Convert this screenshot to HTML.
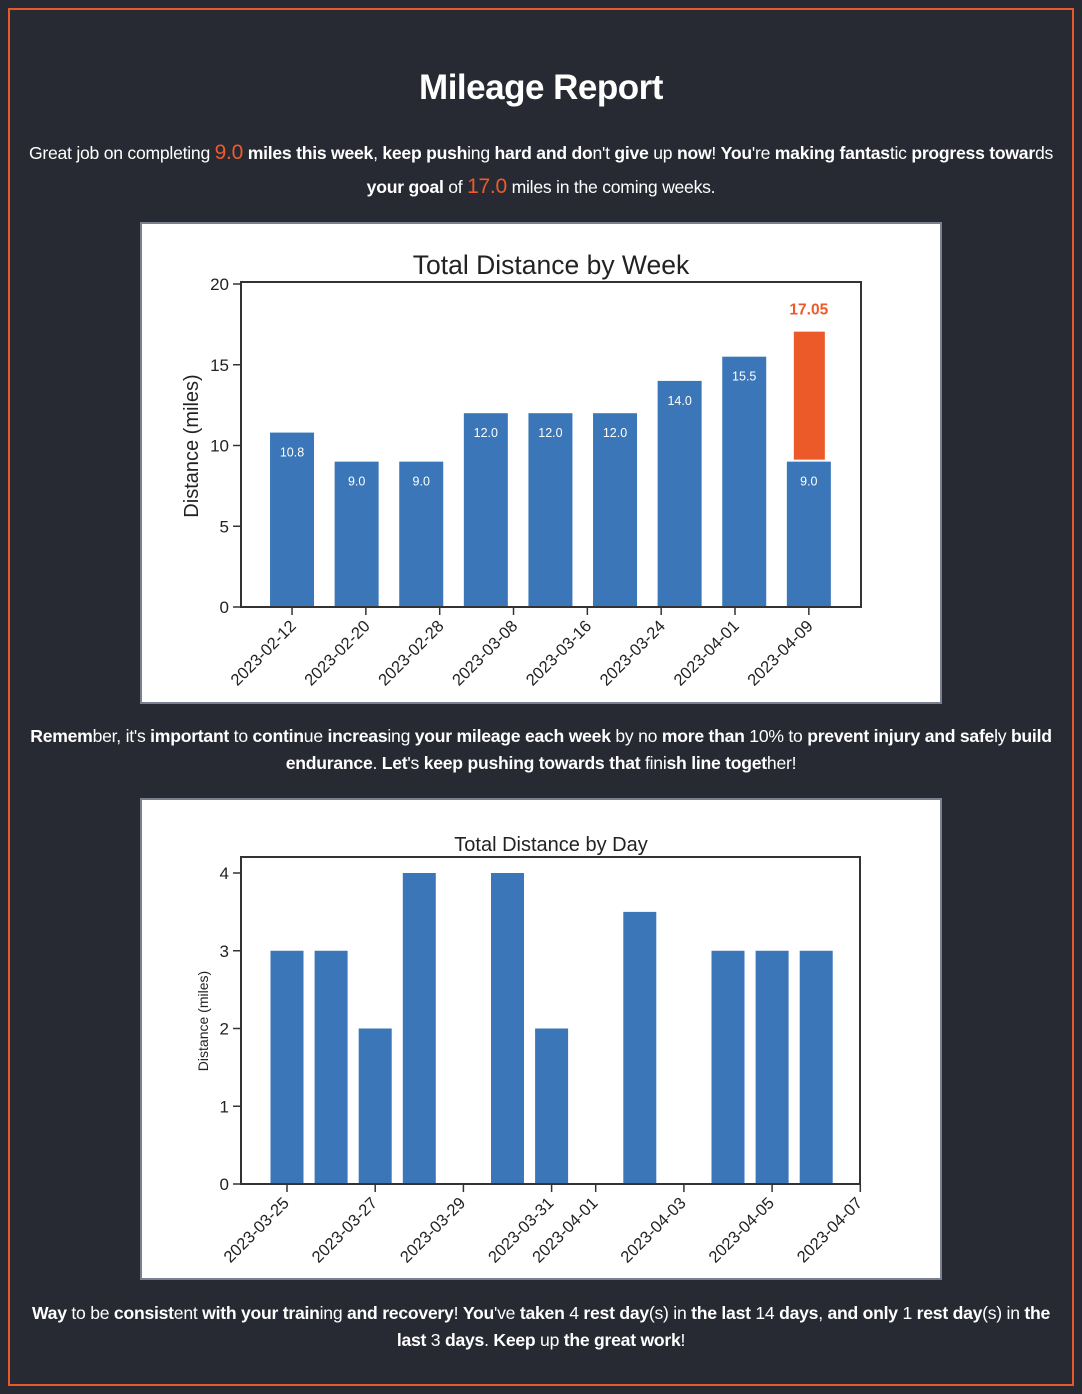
<!DOCTYPE html>
<html><head><meta charset="utf-8">
<style>
html,body{margin:0;padding:0;background:#282a33;}
body{width:1082px;height:1394px;position:relative;font-family:"Liberation Sans",sans-serif;color:#fff;overflow:hidden}
#frame{position:absolute;left:8px;top:8px;width:1066px;height:1378px;border:2px solid #e8582a;box-sizing:border-box}
h1{position:absolute;left:0;width:1082px;top:68px;margin:0;text-align:center;font-size:35px;font-weight:bold;letter-spacing:-0.5px}
.p{position:absolute;left:10px;width:1062px;text-align:center;font-size:17.6px;line-height:33px;letter-spacing:-0.25px}
.p b{font-weight:bold}
.hl{color:#f05a28;font-size:21px}
.card{position:absolute;left:140px;width:802px;height:482px;background:#fff;border:2px solid #7a8090;box-sizing:border-box}
svg text{font-family:"Liberation Sans",sans-serif}
</style></head><body>
<div id="frame"></div>
<h1>Mileage Report</h1>
<div class="p" style="top:136px">Great job on completing <span class="hl">9.0</span> <b>miles this week</b>, <b>keep</b> <b>push</b>ing <b>hard</b> <b>and</b> <b>do</b>n't <b>give</b> up <b>now</b>! <b>You</b>'re <b>making</b> <b>fantas</b>tic <b>progress</b> <b>towar</b>ds<br><b>your</b> <b>goal</b> of <span class="hl">17.0</span> miles in the coming weeks.</div>
<div class="card" style="top:222px"></div>
<div class="p" style="top:723px;line-height:27px"><b>Remem</b>ber, it's <b>important</b> to <b>contin</b>ue <b>increas</b>ing <b>your</b> <b>mileage</b> <b>each</b> <b>week</b> by no <b>more</b> <b>than</b> 10% to <b>prevent</b> <b>injury</b> <b>and</b> <b>safe</b>ly <b>build</b><br><b>endurance</b>. <b>Let</b>'s <b>keep</b> <b>pushing</b> <b>towards</b> <b>that</b> fini<b>sh</b> <b>line</b> <b>toget</b>her!</div>
<div class="card" style="top:798px"></div>
<div class="p" style="top:1300px;line-height:27px"><b>Way</b> to be <b>consist</b>ent <b>with</b> <b>your</b> <b>train</b>ing <b>and</b> <b>recovery</b>! <b>You</b>'ve <b>taken</b> 4 <b>rest</b> <b>day</b>(s) in <b>the</b> <b>last</b> 14 <b>days</b>, <b>and</b> <b>only</b> 1 <b>rest</b> <b>day</b>(s) in <b>the</b><br><b>last</b> 3 <b>days</b>. <b>Keep</b> up <b>the</b> <b>great</b> <b>work</b>!</div>
<svg id="chart" width="1082" height="1394" style="position:absolute;left:0;top:0"></svg>
<script>
const weekLabels=["2023-02-12","2023-02-20","2023-02-28","2023-03-08","2023-03-16","2023-03-24","2023-04-01","2023-04-09"];
const weekValues=[10.8,9.0,9.0,12.0,12.0,12.0,14.0,15.5,9.0];
const goalValue=17.05;
const weekTicks=[0,5,10,15,20];
const dayOffsets=[0,1,2,3,4,5,6,7,8,9,10,11,12];
const dayValues=[3,3,2,4,0,4,2,0,3.5,0,3,3,3];
const dayTickLabels=["2023-03-25","2023-03-27","2023-03-29","2023-03-31","2023-04-01","2023-04-03","2023-04-05","2023-04-07"];
const dayTickOffsets=[0,2,4,6,7,9,11,13];
const dayYTicks=[0,1,2,3,4];

const NS="http://www.w3.org/2000/svg";
const svg=document.getElementById('chart');
function mk(t,a,txt){const e=document.createElementNS(NS,t);for(const k in a)e.setAttribute(k,a[k]);if(txt!==undefined)e.textContent=txt;svg.appendChild(e);return e;}
const blue="#3a76b8",axc="#333";

// Weekly chart
const X1=241,X2=861,Y1=282,Y2=607;
const wx=i=>X1+(i+0.79)*64.6;
const wy=v=>Y2-v*16.15;
let t=mk('text',{x:551,y:274,'text-anchor':'middle','font-size':26.5,fill:'#222'},'Total Distance by Week');

weekValues.forEach((v,i)=>{
  const r=mk('rect',{x:wx(i)-22,y:wy(v),width:44,height:Y2-wy(v),fill:blue});
  
  const l=mk('text',{x:wx(i),y:wy(v)+24,'text-anchor':'middle','font-size':12.5,fill:'#fff'},v.toFixed(1));
  
});
const gi=weekValues.length-1;
const g=mk('rect',{x:wx(gi)-15,y:wy(goalValue),width:31,height:wy(weekValues[gi])-wy(goalValue)-2,fill:'#ec5a2a'});

const gl=mk('text',{x:wx(gi),y:wy(goalValue)-17,'text-anchor':'middle','font-size':15.5,'font-weight':'bold',fill:'#ec5a2a'},goalValue.toFixed(2));

let fr=mk('rect',{x:X1,y:Y1,width:X2-X1,height:Y2-Y1,fill:'none',stroke:axc,'stroke-width':2});

weekTicks.forEach(v=>{
  mk('line',{x1:X1-8,x2:X1,y1:wy(v),y2:wy(v),stroke:axc,'stroke-width':1.5});
  const e=mk('text',{x:X1-12,y:wy(v)+6,'text-anchor':'end','font-size':17,fill:'#222'},v);
  
});
const tickStep=(weekValues.length-1)/(weekLabels.length-1);
weekLabels.forEach((s,i)=>{
  const x=wx(i*tickStep);
  mk('line',{x1:x,x2:x,y1:Y2,y2:Y2+8,stroke:axc,'stroke-width':1.5});
  const e=mk('text',{x:x+5,y:Y2+20,'text-anchor':'end','font-size':16.5,fill:'#222',transform:`rotate(-45 ${x+5} ${Y2+20})`},s);
  
});
t=mk('text',{x:198,y:446,'text-anchor':'middle','font-size':20,fill:'#222',transform:'rotate(-90 198 446)'},'Distance (miles)');


// Daily chart
const A1=241,A2=860,B1=857,B2=1184;
const dx=d=>287+d*44.1;
const dy=v=>B2-v*77.75;
t=mk('text',{x:551,y:851,'text-anchor':'middle','font-size':20,fill:'#222'},'Total Distance by Day');

dayValues.forEach((v,i)=>{
  const r=mk('rect',{x:dx(dayOffsets[i])-16.5,y:dy(v),width:33,height:B2-dy(v),fill:blue});
  
});
fr=mk('rect',{x:A1,y:B1,width:A2-A1,height:B2-B1,fill:'none',stroke:axc,'stroke-width':2});

dayYTicks.forEach(v=>{
  mk('line',{x1:A1-8,x2:A1,y1:dy(v),y2:dy(v),stroke:axc,'stroke-width':1.5});
  const e=mk('text',{x:A1-12,y:dy(v)+6,'text-anchor':'end','font-size':17,fill:'#222'},v);
  
});
dayTickLabels.forEach((s,i)=>{
  const x=dx(dayTickOffsets[i]);
  mk('line',{x1:x,x2:x,y1:B2,y2:B2+8,stroke:axc,'stroke-width':1.5});
  const e=mk('text',{x:x+3,y:B2+20,'text-anchor':'end','font-size':16.5,fill:'#222',transform:`rotate(-45 ${x+3} ${B2+20})`},s);
  
});
t=mk('text',{x:208,y:1021,'text-anchor':'middle','font-size':14,fill:'#222',transform:'rotate(-90 208 1021)'},'Distance (miles)');

</script>
</body></html>
